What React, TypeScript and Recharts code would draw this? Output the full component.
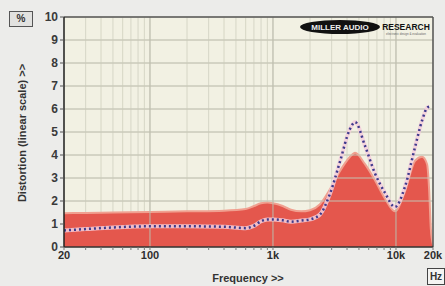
import {
  Area,
  CartesianGrid,
  ComposedChart,
  Line,
  ReferenceLine,
  XAxis,
  YAxis,
} from "recharts";

// frequency points (Hz)
const freqs = [
  20, 30, 50, 100, 200, 400, 600, 700, 800, 900, 1000, 1200, 1400, 1700, 2000,
  2400, 2900, 3500, 4200, 4650, 5600, 6750, 8150, 9800, 11800, 14300, 16300,
  17900, 18600, 19200, 20000,
];

// red filled trace (%)
const redValues = [
  1.47, 1.48, 1.5, 1.52, 1.55, 1.58, 1.65, 1.78, 1.9, 1.93, 1.9, 1.78, 1.62,
  1.55, 1.6, 1.85, 2.5, 3.3, 3.9, 4.1, 3.6, 2.9, 2.1, 1.55, 2.4, 3.75, 3.92,
  3.6, 2.5, 0.8, 0.1,
];

// dotted trace (%)
const dotValues: (number | null)[] = [
  0.72, 0.78, 0.85, 0.9, 0.9, 0.88, 0.82, 0.92, 1.12, 1.2, 1.2, 1.16, 1.1,
  1.15, 1.2, 1.4, 2.3, 3.7, 5.1, 5.43, 4.4, 3.2, 2.35, 1.74, 2.6, 4.35, 5.5,
  6.05, 6.1, null, null,
];

const xTicks = [
  20, 30, 40, 50, 60, 70, 80, 90, 100, 200, 300, 400, 500, 600, 700, 800, 900,
  1000, 2000, 3000, 4000, 5000, 6000, 7000, 8000, 9000, 10000, 20000,
];
const xLabels: Record<number, string> = {
  20: "20",
  100: "100",
  1000: "1k",
  10000: "10k",
  20000: "20k",
};
const yTicks = [0, 1, 2, 3, 4, 5, 6, 7, 8, 9, 10];

const data = freqs.map((f, i) => ({
  f,
  red: redValues[i],
  dot: dotValues[i],
}));

const font = "'Liberation Sans', Arial, sans-serif";

export default function App() {
  return (
    <div
      style={{
        position: "absolute",
        left: 0,
        top: 0,
        width: 445,
        height: 286,
        background: "#ececea",
        fontFamily: font,
      }}
    >
      <ComposedChart
        width={445}
        height={286}
        data={data}
        margin={{ top: 17, right: 12, bottom: 19, left: 34 }}
      >
        <CartesianGrid
          fill="#f2f1e3"
          fillOpacity={1}
          stroke="#d6d6c6"
          strokeWidth={1}
        />
        <XAxis
          dataKey="f"
          type="number"
          scale="log"
          domain={[20, 20000]}
          ticks={xTicks}
          interval={0}
          tickFormatter={(v: number) => xLabels[v] ?? ""}
          height={20}
          tickSize={3}
          tickMargin={1}
          axisLine={{ stroke: "#333", strokeWidth: 1.5 }}
          tickLine={{ stroke: "#777" }}
          tick={{ fill: "#2e2e2e", fontSize: 11, fontWeight: 700, fontFamily: font }}
          allowDataOverflow
        />
        <YAxis
          type="number"
          domain={[0, 10]}
          ticks={yTicks}
          interval={0}
          width={30}
          tickSize={4}
          tickMargin={2}
          axisLine={{ stroke: "#222", strokeWidth: 1.5 }}
          tickLine={{ stroke: "#555" }}
          tick={{ fill: "#3a3a3a", fontSize: 12, fontWeight: 700, fontFamily: font }}
        />
        <ReferenceLine y={2} stroke="#c4c4b4" />
        <ReferenceLine y={3} stroke="#c4c4b4" />
        <ReferenceLine y={4} stroke="#c4c4b4" />
        <ReferenceLine y={5} stroke="#c4c4b4" />
        <ReferenceLine y={6} stroke="#c4c4b4" />
        <ReferenceLine y={7} stroke="#c4c4b4" />
        <ReferenceLine y={8} stroke="#c4c4b4" />
        <ReferenceLine y={9} stroke="#c4c4b4" />
        <ReferenceLine x={100} stroke="#bcbcac" />
        <ReferenceLine x={1000} stroke="#bcbcac" />
        <ReferenceLine x={10000} stroke="#bcbcac" />
        <ReferenceLine y={10} stroke="#555" strokeWidth={1.5} />
        <ReferenceLine x={20000} stroke="#555" strokeWidth={1.5} />
        <Area
          type="monotone"
          dataKey="red"
          stroke="#f0a090"
          strokeWidth={2}
          fill="#e4574d"
          fillOpacity={1}
          isAnimationActive={false}
        />
        <Line
          type="monotone"
          dataKey="dot"
          stroke="#f4cfdc"
          strokeWidth={4}
          strokeOpacity={0.85}
          dot={false}
          isAnimationActive={false}
        />
        <Line
          type="monotone"
          dataKey="dot"
          stroke="#3d3a8c"
          strokeWidth={2.5}
          strokeDasharray="2 3"
          dot={false}
          isAnimationActive={false}
        />
      </ComposedChart>

      {/* % unit box */}
      <div
        style={{
          position: "absolute",
          left: 9,
          top: 11,
          width: 22,
          height: 14,
          border: "1px solid #555",
          background: "#e2e2e0",
          fontSize: 10,
          fontWeight: 700,
          color: "#333",
          textAlign: "center",
          lineHeight: "14px",
        }}
      >
        %
      </div>

      {/* Hz unit box */}
      <div
        style={{
          position: "absolute",
          left: 427,
          top: 268,
          width: 16,
          height: 15,
          border: "1px solid #444",
          background: "#f4f4f2",
          fontSize: 10,
          fontWeight: 700,
          color: "#333",
          textAlign: "center",
          lineHeight: "15px",
        }}
      >
        Hz
      </div>

      {/* y axis title */}
      <div
        style={{
          position: "absolute",
          left: 22,
          top: 133,
          transform: "translate(-50%, -50%) rotate(-90deg)",
          whiteSpace: "nowrap",
          fontSize: 11,
          fontWeight: 700,
          color: "#333",
        }}
      >
        Distortion (linear scale) &gt;&gt;
      </div>

      {/* x axis title */}
      <div
        style={{
          position: "absolute",
          left: 248,
          top: 278,
          transform: "translate(-50%, -50%)",
          whiteSpace: "nowrap",
          fontSize: 11,
          fontWeight: 700,
          color: "#333",
        }}
      >
        Frequency &gt;&gt;
      </div>

      {/* logo */}
      <svg
        width={140}
        height={20}
        style={{ position: "absolute", left: 298, top: 18 }}
      >
        <ellipse cx={42} cy={9} rx={40} ry={7} fill="#111" />
        <text
          x={42}
          y={12}
          textAnchor="middle"
          fill="#eee"
          fontSize={8}
          fontWeight={700}
          fontFamily={font}
        >
          MILLER AUDIO
        </text>
        <text
          x={108}
          y={12}
          textAnchor="middle"
          fill="#111"
          fontSize={8.5}
          fontWeight={700}
          fontFamily={font}
        >
          RESEARCH
        </text>
        <text
          x={108}
          y={17}
          textAnchor="middle"
          fill="#666"
          fontSize={3}
          fontFamily={font}
        >
          electronic design &amp; evaluation
        </text>
      </svg>
    </div>
  );
}
